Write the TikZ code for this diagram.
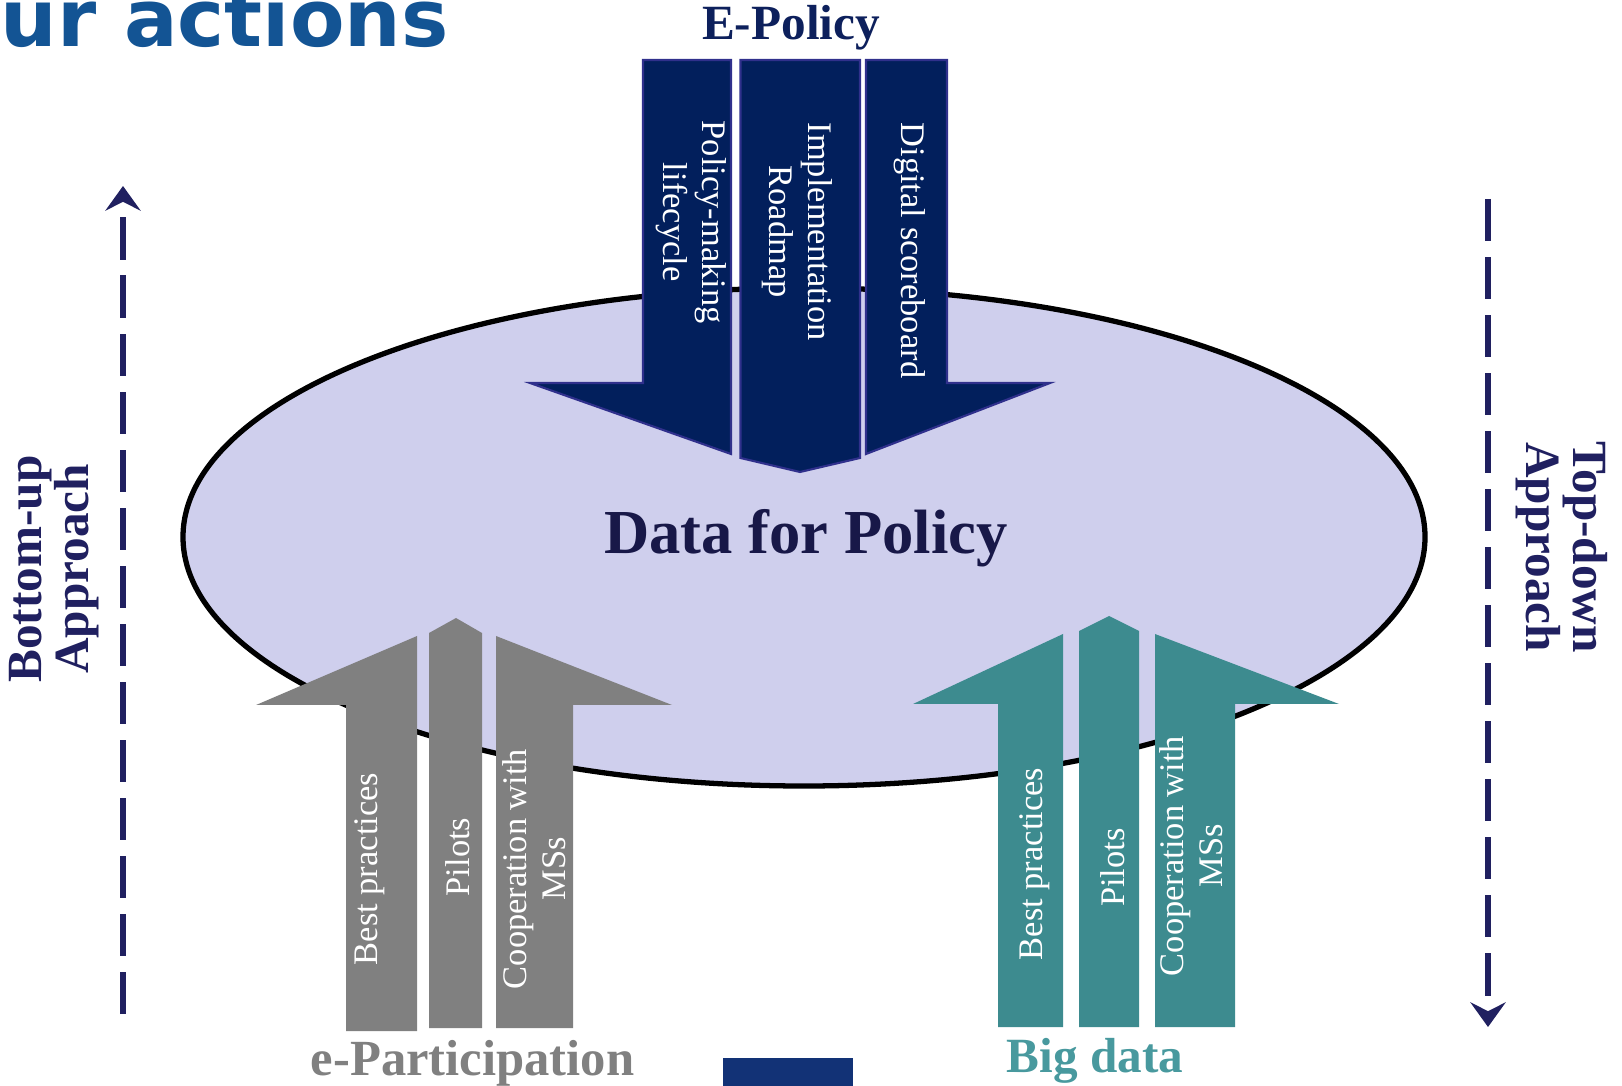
\documentclass[tikz,border=0pt]{standalone}
\usepackage{fontspec}
\setmainfont{Liberation Serif}
\newfontfamily\titlesans{DejaVu Sans}
\usepackage{xcolor}
\usepackage{tikz}
\usetikzlibrary{calc}
\usetikzlibrary{arrows.meta}

\definecolor{ellfill}{RGB}{207,207,237}
\definecolor{navyarrow}{RGB}{2,31,92}
\definecolor{navyedge}{RGB}{48,48,140}
\definecolor{greyarrow}{RGB}{128,128,128}
\definecolor{tealarrow}{RGB}{61,139,143}
\definecolor{tealtext}{RGB}{72,153,158}
\definecolor{apprcol}{RGB}{32,32,96}
\definecolor{epolcol}{RGB}{13,32,92}
\definecolor{dfpcol}{RGB}{24,24,72}
\definecolor{titleblue}{RGB}{19,84,148}
\definecolor{barblue}{RGB}{18,50,118}

\tikzset{
  toppiece/.style={fill=navyarrow, draw=navyedge, line width=0.6pt, line join=miter},
  greypiece/.style={fill=greyarrow},
  tealpiece/.style={fill=tealarrow},
  piecetext/.style={text=white, inner sep=0pt, align=center, font=\fontsize{9.8}{11}\selectfont},
  apprline/.style={apprcol, line width=1.8pt, dash pattern=on 12pt off 4.5pt, -{Stealth[length=7pt,width=10pt,inset=2.5pt]}},
  apprtext/.style={text=apprcol, inner sep=0pt, align=center, font=\fontsize{14}{13.3}\selectfont\bfseries}
}

\begin{document}
\begin{tikzpicture}[x=0.01cm, y=-0.01cm]
        \clip (0,0) rectangle (1622,1086);
        %TITLE
        \node[anchor=base west, inner sep=0pt, text=titleblue, font=\titlesans\fontsize{22.6}{26}\selectfont\bfseries] (title) at (0,47) {ur actions};
        %ELLIPS
        \draw[fill=ellfill, line width=1.5pt] (804,537) ellipse (621 and 249);
        \node[anchor=base, inner sep=0pt, text=dfpcol, font=\fontsize{17.8}{20}\selectfont\bfseries] (dfp) at (806,554) {Data for Policy};
        %E-POLICY
        \node[anchor=base, inner sep=0pt, text=epolcol, font=\fontsize{14}{16}\selectfont\bfseries] (epol) at (791,40) {E-Policy};
        \filldraw[toppiece] (643,60) -- (731,60) -- (731,454) -- (530,383) -- (643,383) -- cycle;
        \filldraw[toppiece] (740.5,60) -- (860,60) -- (860,458) -- (800,472) -- (740.5,458) -- cycle;
        \filldraw[toppiece] (866,60) -- (947,60) -- (947,383) -- (1050,383) -- (866,454) -- cycle;
        \node[piecetext, rotate=-90, anchor=west] (pol) at (691,120) {Policy-making\\lifecycle};
        \node[piecetext, rotate=-90, anchor=west] (impl) at (797.5,122) {Implementation\\Roadmap};
        \node[piecetext, rotate=-90, anchor=west] (dig) at (910,122) {Digital scoreboard};
        %E-PARTICIPATION
        \fill[greypiece] (346,1031) -- (346,705) -- (256,705) -- (417,636) -- (417,1031) -- cycle;
        \fill[greypiece] (429,1028) -- (429,633) -- (456,618) -- (482,633) -- (482,1028) -- cycle;
        \fill[greypiece] (496,1028) -- (496,636) -- (672,705) -- (573,705) -- (573,1028) -- cycle;
        \node[piecetext, rotate=90] (gbest) at (370,869) {Best practices};
        \node[piecetext, rotate=90] (gpil) at (457.5,857) {Pilots};
        \node[piecetext, rotate=90] (gcoop) at (534,869) {Cooperation with\\MSs};
        \node[anchor=base, inner sep=0pt, text=greyarrow, font=\fontsize{14.4}{16}\selectfont\bfseries] (epart) at (472.5,1075) {e-Participation};
        %BIG DATA
        \fill[tealpiece] (998,1027) -- (998,704) -- (913,704) -- (1063,634) -- (1063,1027) -- cycle;
        \fill[tealpiece] (1079,1027) -- (1079,631) -- (1109,616) -- (1139,631) -- (1139,1027) -- cycle;
        \fill[tealpiece] (1155,1027) -- (1155,634) -- (1339,704) -- (1235,704) -- (1235,1027) -- cycle;
        \node[piecetext, rotate=90] (tbest) at (1035,864) {Best practices};
        \node[piecetext, rotate=90] (tpil) at (1113,867.5) {Pilots};
        \node[piecetext, rotate=90] (tcoop) at (1191,856) {Cooperation with\\MSs};
        \node[anchor=base, inner sep=0pt, text=tealtext, font=\fontsize{14}{16}\selectfont\bfseries] (bigd) at (1095,1072) {Big data};
        %APPROACH
        \coordinate (bu-a) at (123,1014);
        \coordinate (bu-b) at (123,186);
        \draw[apprline] (bu-a) -- (bu-b);
        \node[apprtext, rotate=90] (bottomup) at (54,569) {Bottom-up\\Approach};
        \coordinate (td-a) at (1488,199);
        \coordinate (td-b) at (1488,1027);
        \draw[apprline] (td-a) -- (td-b);
        \node[apprtext, rotate=-90] (topdown) at (1562,547) {Top-down\\Approach};
        %BAR
        \fill[barblue] (723,1058) rectangle (853,1090);
    \end{tikzpicture}
\end{document}
